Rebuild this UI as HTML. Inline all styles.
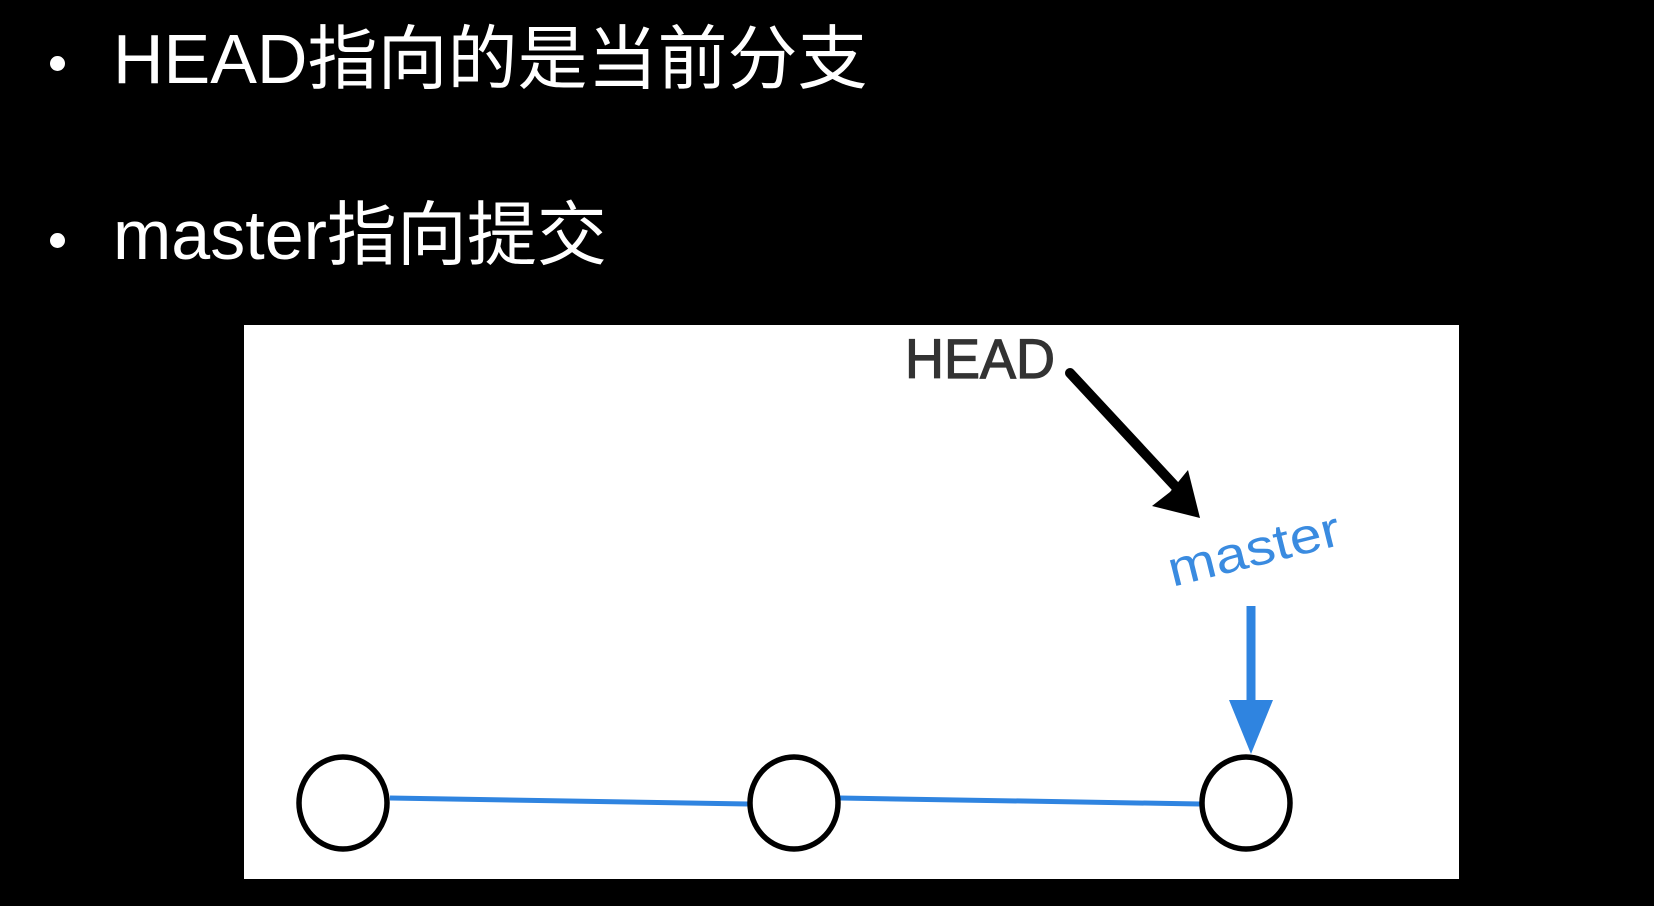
<!DOCTYPE html>
<html><head><meta charset="utf-8"><style>
html,body{margin:0;padding:0;background:#000;}
body{width:1654px;height:906px;position:relative;overflow:hidden;font-family:"Liberation Sans","Noto Sans CJK SC",sans-serif;}
.t{position:absolute;left:113px;color:#fff;font-size:70px;line-height:1;white-space:nowrap;}
.b{position:absolute;left:50px;width:15px;height:15px;border-radius:50%;background:#fff;}
</style></head><body>
<div class="b" style="top:56px"></div>
<div class="t" style="top:24px">HEAD指向的是当前分支</div>
<div class="b" style="top:233px"></div>
<div class="t" style="top:200px">master指向提交</div>
<svg width="1654" height="906" style="position:absolute;left:0;top:0">
<rect x="244" y="325" width="1215" height="554" fill="#fff"/>
<text x="905" y="378" font-family="Liberation Sans" font-size="56" fill="#333" stroke="#333" stroke-width="1.2" textLength="150" lengthAdjust="spacingAndGlyphs">HEAD</text>
<line x1="1070" y1="373" x2="1188" y2="500" stroke="#000" stroke-width="10" stroke-linecap="round"/>
<path d="M1200 518 L1152 506 L1170 492 L1188 470 Z" fill="#000"/>
<text x="1254" y="566" font-family="Liberation Sans" font-size="50" fill="#3a8be0" text-anchor="middle" transform="rotate(-14 1254 550)" textLength="176" lengthAdjust="spacingAndGlyphs">master</text>
<line x1="1251" y1="606" x2="1251" y2="720" stroke="#2f84e0" stroke-width="9"/>
<path d="M1229 700 L1273 700 L1251 754 Z" fill="#2f84e0"/>
<path d="M390 798 Q550 800 748 804" stroke="#2f84e0" stroke-width="5" fill="none"/>
<path d="M840 798 Q1000 800 1200 804" stroke="#2f84e0" stroke-width="5" fill="none"/>
<ellipse cx="343" cy="803" rx="44" ry="46" fill="#fff" stroke="#000" stroke-width="5.5"/>
<ellipse cx="794" cy="803" rx="44" ry="46" fill="#fff" stroke="#000" stroke-width="5.5"/>
<ellipse cx="1246" cy="803" rx="44" ry="46" fill="#fff" stroke="#000" stroke-width="5.5"/>
</svg>
</body></html>
